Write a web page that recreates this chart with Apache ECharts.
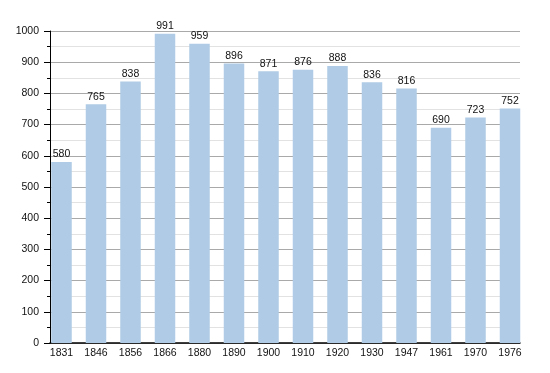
<!DOCTYPE html>
<html>
<head>
<meta charset="utf-8">
<script src="https://cdn.jsdelivr.net/npm/echarts@6/dist/echarts.min.js"></script>
<style>
html,body{margin:0;padding:0;background:#fff;}
#chart{width:550px;height:373px;}
</style>
</head>
<body>
<div id="chart"></div>
<script>
const years = ['1831','1846','1856','1866','1880','1890','1900','1910','1920','1930','1947','1961','1970','1976'];
const population = [580, 765, 838, 991, 959, 896, 871, 876, 888, 836, 816, 690, 723, 752];
const yMin = 0, yMax = 1000, yStep = 100;

const font = 'Liberation Sans, Arial, sans-serif';
const chart = echarts.init(document.getElementById('chart'), null, {renderer: 'canvas'});
chart.setOption({
  animation: false,
  backgroundColor: '#ffffff',
  grid: [
    {left: 50, right: 30, top: 31, bottom: 30, containLabel: false},
    {left: 44.25, right: 22.75, top: 31, bottom: 30, containLabel: false}
  ],
  xAxis: [
    {
      gridIndex: 0, type: 'category', data: years,
      axisLine: {show: true, lineStyle: {color: '#000', width: 1.5}},
      axisTick: {show: false}, axisLabel: {show: false}, splitLine: {show: false}
    },
    {
      gridIndex: 1, type: 'category', data: years,
      axisLine: {show: false}, axisTick: {show: false},
      axisLabel: {show: true, color: '#111', fontFamily: font, fontSize: 10.5, margin: 5}
    }
  ],
  yAxis: [
    {
      gridIndex: 0, type: 'value', min: yMin, max: yMax, interval: yStep,
      axisLine: {show: true, lineStyle: {color: '#000', width: 1}},
      axisTick: {show: true, length: 6, lineStyle: {color: '#000'}},
      minorTick: {show: true, splitNumber: 2, length: 3, lineStyle: {color: '#000'}},
      axisLabel: {color: '#111', fontFamily: font, fontSize: 10.5, margin: 11,
                  formatter: function (v) { return String(v); }},
      splitLine: {show: true, lineStyle: {color: '#a9a9a9', width: 1}},
      minorSplitLine: {show: true, lineStyle: {color: '#e2e2e2', width: 1}}
    },
    {
      gridIndex: 1, type: 'value', min: yMin, max: yMax, interval: yStep, show: false
    }
  ],
  series: [
    {
      type: 'bar', xAxisIndex: 1, yAxisIndex: 1,
      data: population,
      barWidth: 20.5,
      itemStyle: {color: '#b0cbe5'},
      label: {show: true, position: 'top', distance: 2, color: '#111', fontFamily: font, fontSize: 10.5}
    }
  ]
});
</script>
</body>
</html>
